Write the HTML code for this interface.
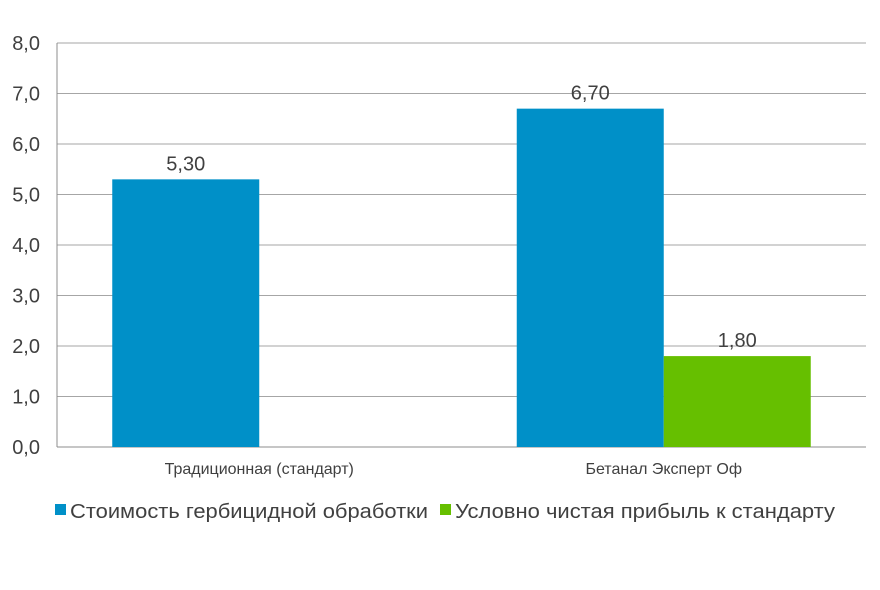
<!DOCTYPE html>
<html><head><meta charset="utf-8"><style>
html,body{margin:0;padding:0;background:#fff;width:880px;height:590px;overflow:hidden}
svg{display:block;font-family:"Liberation Sans",sans-serif}
</style></head><body>
<svg id="chart" width="880" height="590" viewBox="0 0 880 590"></svg>
<script>
const categories = ["Традиционная  (стандарт)", "Бетанал Эксперт Оф"];
const seriesNames = ["Стоимость гербицидной обработки", "Условно чистая прибыль к стандарту"];
const costValues = [5.30, 6.70];
const profitValues = [null, 1.80];
const yTicks = [0,1,2,3,4,5,6,7,8];
const colors = ["#0090c8", "#66bf00"];

const svg = document.getElementById('chart');
const NS = "http://www.w3.org/2000/svg";
const X0 = 57, X1 = 866, Y0 = 447, Y1 = 43, YMAX = 8;
const y = v => Y0 - (v / YMAX) * (Y0 - Y1);
const catW = (X1 - X0) / categories.length;
const barW = 147;
function mk(tag, attrs, text){
  const e = document.createElementNS(NS, tag);
  for (const k in attrs) e.setAttribute(k, attrs[k]);
  if (text !== undefined) e.textContent = text;
  svg.appendChild(e);
  return e;
}
yTicks.forEach(t => {
  const g = mk('line', {x1:X0, x2:X1, y1:y(t), y2:y(t), stroke: t===0 ? '#8c8c8c' : '#a6a6a6', 'stroke-width':1});
  
  
  const l = mk('text', {x:40, y:y(t)+7, 'text-anchor':'end', 'font-size':20, fill:'#404040'}, t.toFixed(1).replace('.', ','));
  
  
});
const axis = mk('line', {x1:X0, x2:X0, y1:Y1, y2:Y0, stroke:'#8c8c8c', 'stroke-width':1});


const series = [costValues, profitValues];
categories.forEach((c, i) => {
  const cx = X0 + catW * (i + 0.5);
  const start = cx - barW * series.length / 2;
  series.forEach((vals, s) => {
    const v = vals[i];
    if (v === null || v === undefined) return;
    const bx = start + s * barW;
    const r = mk('rect', {x:bx, y:y(v), width:barW, height:Y0 - y(v), fill:colors[s]});
    
    
    const t = mk('text', {x:bx + barW/2, y:y(v) - 9, 'text-anchor':'middle', 'font-size':20, fill:'#404040'}, v.toFixed(2).replace('.', ','));
    
    
  });
  const cl = mk('text', {x:cx, y:474, 'text-anchor':'middle', 'font-size':16, fill:'#404040', 'xml:space':'preserve'}, c);
  
  
});
const legendX = [55, 440];
seriesNames.forEach((n, s) => {
  const sw = mk('rect', {x:legendX[s], y:504, width:11, height:11, fill:colors[s]});
  
  
  const lt = mk('text', {x:legendX[s] + 15, y:518, 'font-size':20, fill:'#404040', textLength: s===0 ? 358 : 380, lengthAdjust:'spacingAndGlyphs'}, n);
  
  
});
</script>
</body></html>
